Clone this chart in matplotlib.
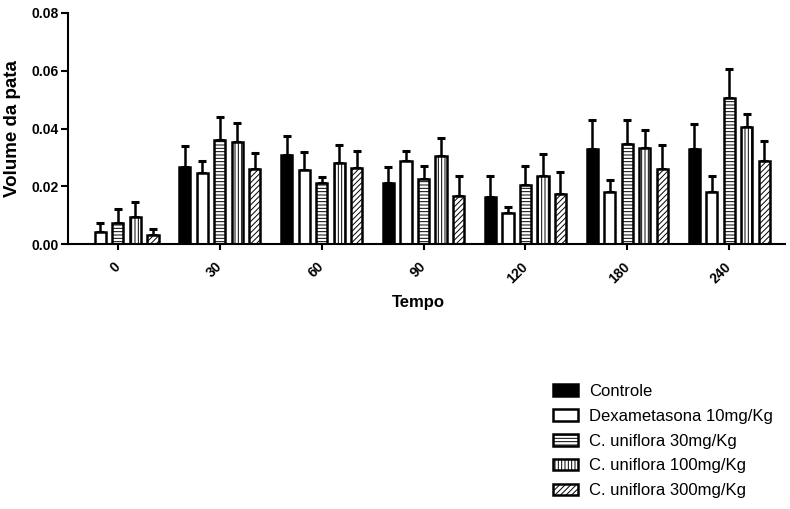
import numpy as np
import matplotlib
matplotlib.use("Agg")
from matplotlib import pyplot as plt

plt.rcParams["font.family"] = ["Liberation Sans", "DejaVu Sans"]
plt.rcParams["hatch.linewidth"] = 0.7

tempos = ["0", "30", "60", "90", "120", "180", "240"]
series = ["Controle", "Dexametasona 10mg/Kg", "C. uniflora 30mg/Kg",
          "C. uniflora 100mg/Kg", "C. uniflora 300mg/Kg"]

controle = [0.0, 0.0268, 0.0308, 0.0213, 0.0165, 0.0328, 0.0328]
controle_err = [0.0, 0.0072, 0.0067, 0.0055, 0.0071, 0.0100, 0.0088]
dexa = [0.0044, 0.0245, 0.0257, 0.0288, 0.0109, 0.0180, 0.0180]
dexa_err = [0.0029, 0.0044, 0.0063, 0.0035, 0.0021, 0.0042, 0.0056]
cu30 = [0.0073, 0.0360, 0.0211, 0.0224, 0.0204, 0.0346, 0.0506]
cu30_err = [0.0048, 0.0080, 0.0022, 0.0048, 0.0068, 0.0082, 0.0101]
cu100 = [0.0096, 0.0352, 0.0280, 0.0305, 0.0237, 0.0332, 0.0406]
cu100_err = [0.0049, 0.0068, 0.0064, 0.0063, 0.0074, 0.0063, 0.0044]
cu300 = [0.0031, 0.0260, 0.0265, 0.0167, 0.0173, 0.0259, 0.0288]
cu300_err = [0.0021, 0.0057, 0.0058, 0.0069, 0.0078, 0.0084, 0.0070]

means = [controle, dexa, cu30, cu100, cu300]
errs = [controle_err, dexa_err, cu30_err, cu100_err, cu300_err]
fills = ["black", "white", "white", "white", "white"]
hatches = [None, None, "-----", "|||||", "//////"]

fig = plt.figure(figsize=(7.9, 5.09), dpi=100)
ax = fig.add_axes([0.086, 0.52, 0.908, 0.455])

x = np.arange(len(tempos))
step = 0.172
width = 0.11
for i in range(len(series)):
    pos = x + (i - 2) * step
    m = np.array(means[i])
    e = np.array(errs[i])
    ax.bar(pos, m, width, color=fills[i], edgecolor="black", linewidth=1.8,
           hatch=hatches[i], label=series[i], zorder=2)
    keep = m > 0
    ax.errorbar(pos[keep], m[keep], yerr=[np.zeros(keep.sum()), e[keep]],
                fmt="none", ecolor="black", elinewidth=1.8, capsize=2.8,
                capthick=2.2, zorder=1)

ax.set_xlim(-0.49, 6.55)
ax.set_ylim(0, 0.08)
ax.set_yticks([0, 0.02, 0.04, 0.06, 0.08])
ax.set_yticklabels(["0.00", "0.02", "0.04", "0.06", "0.08"],
                   fontsize=10, fontweight="bold")
ax.set_xticks(x)
ax.set_xticklabels(tempos, fontsize=10, fontweight="bold", rotation=45,
                   ha="right", va="center", rotation_mode="anchor")

ax.spines["top"].set_visible(False)
ax.spines["right"].set_visible(False)
ax.spines["left"].set_linewidth(1.5)
ax.spines["bottom"].set_linewidth(1.5)
ax.tick_params(axis="y", length=5, width=1.5, pad=1.5)
ax.tick_params(axis="x", length=4.5, width=1.5, pad=10)

ax.set_ylabel("Volume da pata", fontsize=13.5, fontweight="bold")
ax.yaxis.set_label_coords(-0.066, 0.5)
ax.set_xlabel("Tempo", fontsize=12, fontweight="bold")
ax.xaxis.set_label_coords(0.488, -0.22)

fig.legend(loc="upper left", bbox_to_anchor=(0.689, 0.262), frameon=False,
           fontsize=12, borderpad=0, handlelength=1.5, handleheight=0.7,
           handletextpad=0.7, labelspacing=0.59)

fig.savefig("out.png", dpi=100)
